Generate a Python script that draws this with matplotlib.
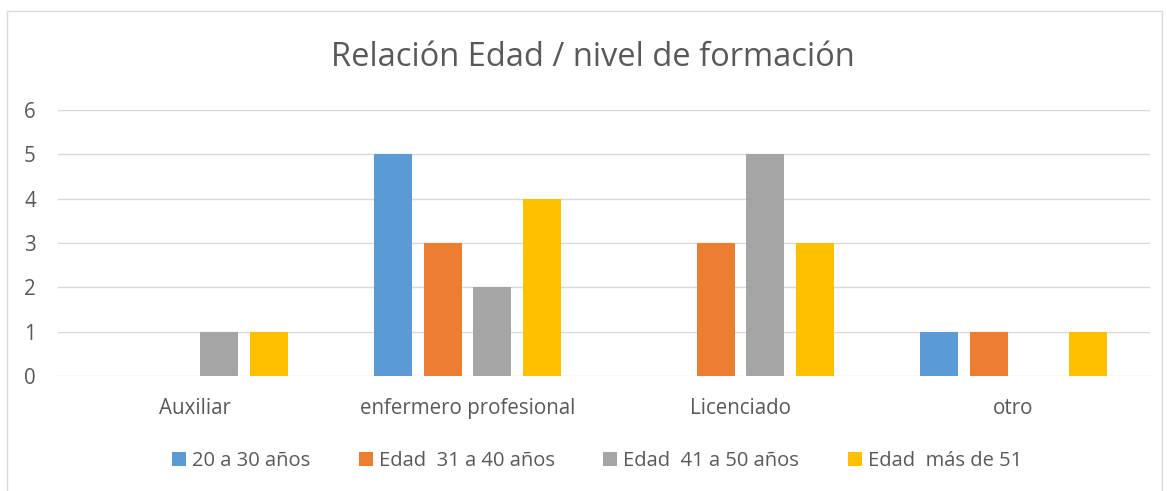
import numpy as np
import matplotlib.pyplot as plt
from matplotlib.patches import Rectangle

categories = ['Auxiliar', 'enfermero profesional', 'Licenciado', 'otro']
series_names = ['20 a 30 años', 'Edad  31 a 40 años', 'Edad  41 a 50 años', 'Edad  más de 51']
values = [
    [0, 5, 0, 1],   # 20 a 30
    [0, 3, 3, 1],   # 31 a 40
    [1, 2, 5, 0],   # 41 a 50
    [1, 4, 3, 1],   # mas de 51
]
colors = ['#5B9BD5', '#ED7D31', '#A5A5A5', '#FFC000']
yticks = [0, 1, 2, 3, 4, 5, 6]

plt.rcParams['font.family'] = ['Open Sans', 'DejaVu Sans']
txt = '#595959'

W, H = 1167, 491
fig = plt.figure(figsize=(W / 100, H / 100), dpi=100)

# chart border
fig.patches.append(Rectangle((7 / W, -0.01), (1155) / W, 1 - 11 / H + 0.01,
                             transform=fig.transFigure, fill=False,
                             edgecolor='#d9d9d9', linewidth=1))

ax = fig.add_axes([58 / W, 1 - 376 / H, (1150 - 58) / W, (376 - 110) / H])

x = np.arange(len(categories))
bw = 0.139
step = 0.181
for i, (name, vals) in enumerate(zip(series_names, values)):
    ax.bar(x + (i - 1.5) * step, vals, width=bw, color=colors[i], label=name, zorder=3)

ax.set_xlim(-0.5, len(categories) - 0.5)
ax.set_ylim(0, 6)
ax.set_yticks(yticks)
ax.yaxis.grid(True, color='#d9d9d9', linewidth=1, zorder=0)
for s in ax.spines.values():
    s.set_visible(False)
ax.tick_params(axis='both', length=0, labelsize=14.8, colors=txt)
ax.tick_params(axis='y', pad=16)
ax.tick_params(axis='x', pad=16)
ax.set_xticks(x)
ax.set_xticklabels(categories)

fig.text(593 / W, 1 - 57 / H, 'Relación Edad / nivel de formación', ha='center', va='center',
         fontsize=23.5, color=txt)

fig.legend(loc='center', bbox_to_anchor=(597 / W, 1 - 461 / H), ncol=4, frameon=False,
           fontsize=14.5, labelcolor=txt, handlelength=0.7, handleheight=0.7,
           handletextpad=0.3, columnspacing=2.4)

fig.savefig('out.png', dpi=100)
